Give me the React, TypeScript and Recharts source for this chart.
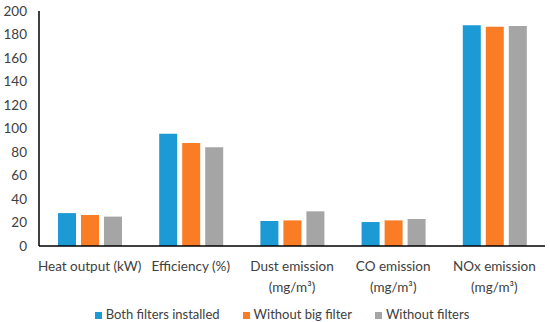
import { BarChart, Bar, XAxis, YAxis, Legend } from "recharts";

const categories = [
  "Heat output (kW)",
  "Efficiency (%)",
  "Dust emission\n(mg/m³)",
  "CO emission\n(mg/m³)",
  "NOx emission\n(mg/m³)",
];
const bothFilters = [28, 95.5, 21.3, 20.4, 187.8];
const withoutBig = [26.4, 87.7, 21.8, 21.8, 186.6];
const withoutFilters = [25, 84, 29.5, 23, 187.2];
const yTicks = [0, 20, 40, 60, 80, 100, 120, 140, 160, 180, 200];

const data = categories.map((name, i) => ({
  name,
  both: bothFilters[i],
  big: withoutBig[i],
  none: withoutFilters[i],
}));

const FONT = "Lato, 'Open Sans', sans-serif";

const CategoryTick = (props: any) => {
  const { x, y, payload } = props;
  const lines = String(payload.value).split("\n");
  return (
    <g transform={`translate(${x},${y})`}>
      {lines.map((line, i) => (
        <text
          key={i}
          x={0}
          y={i * 21 + 14}
          textAnchor="middle"
          dominantBaseline="middle"
          fill="#404040"
          fontSize={13.5}
          fontFamily={FONT}
        >
          {line}
        </text>
      ))}
    </g>
  );
};

const App = () => {
  return (
    <div style={{ width: 550, height: 322, background: "#fff" }}>
      <style>{"body{margin:0}"}</style>
      <BarChart
        width={550}
        height={322}
        data={data}
        margin={{ top: 11, right: 5, bottom: 0, left: 0 }}
        barCategoryGap={19}
        barGap={5}
      >
        <XAxis
          dataKey="name"
          tick={<CategoryTick />}
          tickLine={false}
          interval={0}
          height={60}
          axisLine={{ stroke: "#000", strokeWidth: 1.5 }}
        />
        <XAxis
          xAxisId="top"
          dataKey="name"
          orientation="top"
          height={0}
          tick={false}
          tickLine={false}
          axisLine={{ stroke: "#000", strokeWidth: 1.5 }}
        />
        <YAxis
          domain={[0, 200]}
          ticks={yTicks}
          width={39}
          tickLine={false}
          tickSize={6}
          tickMargin={6}
          axisLine={{ stroke: "#000", strokeWidth: 1.5 }}
          tick={{ fill: "#404040", fontSize: 13.5, fontFamily: FONT }}
        />
        <YAxis
          yAxisId="right"
          orientation="right"
          width={0}
          domain={[0, 200]}
          tick={false}
          tickLine={false}
          axisLine={{ stroke: "#000", strokeWidth: 1.5 }}
        />
        <Legend
          verticalAlign="bottom"
          iconType="square"
          iconSize={7}
          wrapperStyle={{ fontFamily: FONT, fontSize: 13, color: "#404040", paddingLeft: 21 }}
          formatter={(value: string) => <span style={{ color: "#404040", marginRight: 13 }}>{value}</span>}
        />
        <Bar dataKey="both" name="Both filters installed" fill="#1B9AD6" isAnimationActive={false} />
        <Bar dataKey="big" name="Without big filter" fill="#FA7D26" isAnimationActive={false} />
        <Bar dataKey="none" name="Without filters" fill="#A5A5A5" isAnimationActive={false} />
      </BarChart>
    </div>
  );
};

export default App;
